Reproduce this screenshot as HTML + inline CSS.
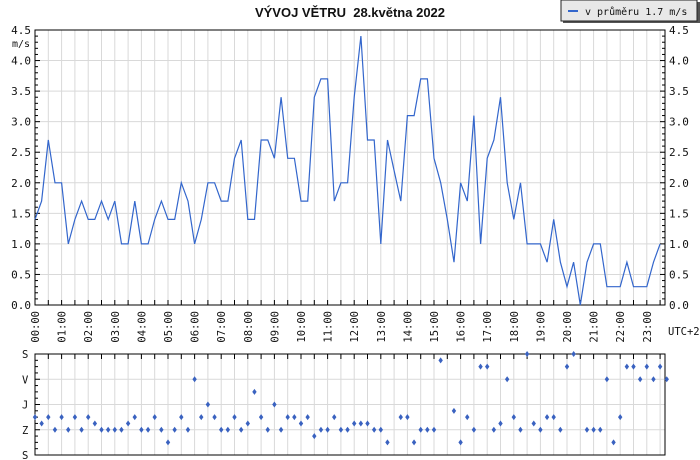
<!DOCTYPE html>
<html><head><meta charset="utf-8"><style>
body{margin:0;background:#fff;}
svg{display:block;font-family:"DejaVu Sans Mono","Liberation Mono",monospace;}
</style></head><body>
<svg id="c" width="700" height="460" viewBox="0 0 700 460">
<rect width="700" height="460" fill="#fff"/>
<text x="350" y="17" text-anchor="middle" font-family="Liberation Sans, sans-serif" font-weight="bold" font-size="13" fill="#111">VÝVOJ VĚTRU &#160;28.května 2022</text>
<g>
<rect x="563" y="2" width="137" height="21" fill="#555"/>
<rect x="561" y="0" width="136" height="21" fill="#e8e8e8" stroke="#222" stroke-width="1"/>
<line x1="568" y1="11" x2="578" y2="11" stroke="#3366cc" stroke-width="2"/>
<text x="585" y="15" font-size="10" fill="#111">v průměru 1.7 m/s</text>
</g>
<g id="topG"></g>
<g id="botG"></g>
</svg>
<script>
const speedValues=[1.4,1.7,2.7,2.0,2.0,1.0,1.4,1.7,1.4,1.4,1.7,1.4,1.7,1.0,1.0,1.7,1.0,1.0,1.4,1.7,1.4,1.4,2.0,1.7,1.0,1.4,2.0,2.0,1.7,1.7,2.4,2.7,1.4,1.4,2.7,2.7,2.4,3.4,2.4,2.4,1.7,1.7,3.4,3.7,3.7,1.7,2.0,2.0,3.4,4.4,2.7,2.7,1.0,2.7,2.2,1.7,3.1,3.1,3.7,3.7,2.4,2.0,1.4,0.7,2.0,1.7,3.1,1.0,2.4,2.7,3.4,2.0,1.4,2.0,1.0,1.0,1.0,0.7,1.4,0.7,0.3,0.7,0.0,0.7,1.0,1.0,0.3,0.3,0.3,0.7,0.3,0.3,0.3,0.7,1.0];
const dirValues=[225,247.5,225,270,225,270,225,270,225,247.5,270,270,270,270,247.5,225,270,270,225,270,315,270,225,270,90,225,180,225,270,270,225,270,247.5,135,225,270,180,270,225,225,247.5,225,292.5,270,270,225,270,270,247.5,247.5,247.5,270,270,315,null,225,225,315,270,270,270,22.5,null,202.5,315,225,270,45,45,270,247.5,90,225,270,0,247.5,270,225,225,270,45,0,null,270,270,270,90,315,225,45,45,90,45,90,45,90];
const hourLabels=["00:00","01:00","02:00","03:00","04:00","05:00","06:00","07:00","08:00","09:00","10:00","11:00","12:00","13:00","14:00","15:00","16:00","17:00","18:00","19:00","20:00","21:00","22:00","23:00"];
const speedTicks=[0,0.5,1,1.5,2,2.5,3,3.5,4,4.5];
const dirTicks=["S","V","J","Z","S"];
const dirTickDeg=[0,90,180,270,360];
const NS="http://www.w3.org/2000/svg";
const L=35,R=665,HW=26.6;
const xT=m=>L+m/60*HW;
const xI=i=>xT(i*15);
const yS=v=>305-v/4.5*275;
const yD=d=>354+d/360*101;
function mk(p,tag,a){const e=document.createElementNS(NS,tag);for(const k in a)e.setAttribute(k,a[k]);p.appendChild(e);return e;}
const topG=document.getElementById('topG'),botG=document.getElementById('botG');
for(let h=0;h*30<=24*60;h++){const x=xT(h*30);if(x>R)break;
 let g=mk(topG,'line',{x1:x,y1:30,x2:x,y2:305,stroke:'#d9d9d9'});
 
 
 mk(topG,'line',{x1:x,y1:305,x2:x,y2:300,stroke:'#000'});
 let g2=mk(botG,'line',{x1:x,y1:354,x2:x,y2:455,stroke:'#d9d9d9'});
 
 
 mk(botG,'line',{x1:x,y1:354,x2:x,y2:359,stroke:'#000'});
}
speedTicks.forEach(v=>{const y=yS(v);
 let g=mk(topG,'line',{x1:L,y1:y,x2:R,y2:y,stroke:'#d9d9d9'});
 
 
 let t=mk(topG,'text',{x:31,y:y+4,'text-anchor':'end','font-size':11,fill:'#111'});t.textContent=v.toFixed(1);
 
 
 let t2=mk(topG,'text',{x:669,y:y+4,'font-size':11,fill:'#111'});t2.textContent=v.toFixed(1);
 
 
});
for(let k=0;k<=45;k++){const y=yS(k/10);const w=k%5==0?5:3;
 mk(topG,'line',{x1:L,y1:y,x2:L+w,y2:y,stroke:'#000'});
 mk(topG,'line',{x1:R,y1:y,x2:R-w,y2:y,stroke:'#000'});}
let u=mk(topG,'text',{x:12,y:47,'font-size':10,fill:'#111'});u.textContent='m/s';


mk(topG,'rect',{x:L,y:30,width:R-L,height:275,fill:'none',stroke:'#000'});
let pts=speedValues.map((v,i)=>xI(i).toFixed(1)+','+yS(v).toFixed(1)).join(' ');
let pl=mk(topG,'polyline',{points:pts,fill:'none',stroke:'#3366cc','stroke-width':1.2});


hourLabels.forEach((s,h)=>{const x=xT(h*60);
 let t=mk(topG,'text',{x:0,y:0,'font-size':10.5,fill:'#111','text-anchor':'end',transform:`translate(${x+4},311) rotate(-90)`});t.textContent=s;
 
 
});
let tz=mk(topG,'text',{x:668,y:335,'font-size':10.5,fill:'#111'});tz.textContent='UTC+2';


dirTicks.forEach((s,k)=>{const y=yD(dirTickDeg[k]);
 if(k>0&&k<4){let g=mk(botG,'line',{x1:L,y1:y,x2:R,y2:y,stroke:'#d9d9d9'});
 
 }
 let t=mk(botG,'text',{x:22,y:y+4,'font-size':10.5,fill:'#111'});t.textContent=s;
 
 
});
for(let k=0;k<=16;k++){const y=yD(k*22.5);mk(botG,'line',{x1:L,y1:y,x2:L+(k%4==0?5:3),y2:y,stroke:'#000'});}
mk(botG,'rect',{x:L,y:354,width:R-L,height:101,fill:'none',stroke:'#000'});
dirValues.forEach((d,i)=>{if(d===null)return;const x=xI(i),y=yD(d);
 let p=mk(botG,'path',{d:`M${x} ${y-3}L${x+2.2} ${y}L${x} ${y+3}L${x-2.2} ${y}Z`,fill:'#3a62c0'});
 
 
});
</script>
</body></html>
